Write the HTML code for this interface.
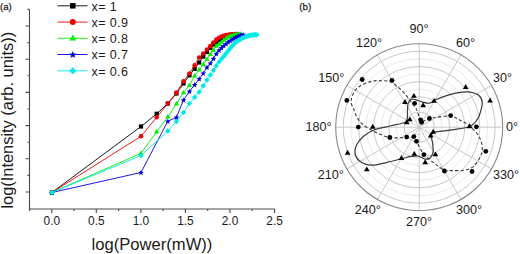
<!DOCTYPE html>
<html><head><meta charset="utf-8"><style>
html,body{margin:0;padding:0;background:#fff;}
svg{display:block;}
text{font-family:"Liberation Sans",sans-serif;fill:#1a1a1a;}
</style></head><body>
<svg width="520" height="254" viewBox="0 0 520 254">
<rect width="520" height="254" fill="#fff"/>
<text x="0" y="9.7" font-size="9.6" stroke="#1a1a1a" stroke-width="0.25">(a)</text>
<path d="M29.5,9.4V209M29,209H274.8" stroke="#4a4a4a" stroke-width="1.1" fill="none"/>
<path d="M25.5,192.0H29.5M27.5,175.4H29.5M25.5,158.8H29.5M27.5,142.2H29.5M25.5,125.6H29.5M27.5,109.0H29.5M25.5,92.4H29.5M27.5,75.8H29.5M25.5,59.2H29.5M27.5,42.6H29.5M25.5,26.0H29.5M27.5,9.4H29.5M51.8,209V213M96.3,209V213M140.9,209V213M185.4,209V213M230.0,209V213M274.6,209V213M29.5,209V211M74.0,209V211M118.6,209V211M163.1,209V211M207.7,209V211M252.2,209V211" stroke="#4a4a4a" stroke-width="1.1" fill="none"/>
<text x="51.8" y="225.2" font-size="11.9" text-anchor="middle" fill="#222">0.0</text>
<text x="96.3" y="225.2" font-size="11.9" text-anchor="middle" fill="#222">0.5</text>
<text x="140.9" y="225.2" font-size="11.9" text-anchor="middle" fill="#222">1.0</text>
<text x="185.4" y="225.2" font-size="11.9" text-anchor="middle" fill="#222">1.5</text>
<text x="230.0" y="225.2" font-size="11.9" text-anchor="middle" fill="#222">2.0</text>
<text x="274.6" y="225.2" font-size="11.9" text-anchor="middle" fill="#222">2.5</text>
<text x="91.6" y="249.5" font-size="16.6" fill="#1a1a1a">log(Power(mW))</text>
<text transform="translate(13,208.6) rotate(-90)" font-size="16.4" fill="#1a1a1a">log(Intensity (arb. units))</text>
<path d="M51.90,192.50L141.00,126.50L156.69,113.79L167.82,103.50L176.46,93.51L183.51,83.48L189.48,75.29L194.64,68.79L199.20,62.47L203.28,56.50L206.97,51.96L210.33,47.99L213.43,44.57L216.30,41.84L218.97,39.86L221.47,38.22L223.81,36.98L226.02,36.19L228.12,35.59L230.10,35.08L231.99,34.66L233.79,34.36L235.51,34.17L237.16,34.10" stroke="#000000" stroke-width="0.9" fill="none"/>
<rect x="49.79" y="190.39" width="4.22" height="4.22" fill="#000000"/>
<rect x="138.89" y="124.39" width="4.22" height="4.22" fill="#000000"/>
<rect x="154.58" y="111.68" width="4.22" height="4.22" fill="#000000"/>
<rect x="165.71" y="101.39" width="4.22" height="4.22" fill="#000000"/>
<rect x="174.34" y="91.39" width="4.22" height="4.22" fill="#000000"/>
<rect x="181.40" y="81.37" width="4.22" height="4.22" fill="#000000"/>
<rect x="187.36" y="73.18" width="4.22" height="4.22" fill="#000000"/>
<rect x="192.53" y="66.68" width="4.22" height="4.22" fill="#000000"/>
<rect x="197.09" y="60.36" width="4.22" height="4.22" fill="#000000"/>
<rect x="201.17" y="54.39" width="4.22" height="4.22" fill="#000000"/>
<rect x="204.85" y="49.85" width="4.22" height="4.22" fill="#000000"/>
<rect x="208.22" y="45.87" width="4.22" height="4.22" fill="#000000"/>
<rect x="211.32" y="42.46" width="4.22" height="4.22" fill="#000000"/>
<rect x="214.19" y="39.73" width="4.22" height="4.22" fill="#000000"/>
<rect x="216.86" y="37.75" width="4.22" height="4.22" fill="#000000"/>
<rect x="219.35" y="36.11" width="4.22" height="4.22" fill="#000000"/>
<rect x="221.70" y="34.87" width="4.22" height="4.22" fill="#000000"/>
<rect x="223.91" y="34.08" width="4.22" height="4.22" fill="#000000"/>
<rect x="226.00" y="33.48" width="4.22" height="4.22" fill="#000000"/>
<rect x="227.99" y="32.97" width="4.22" height="4.22" fill="#000000"/>
<rect x="229.88" y="32.55" width="4.22" height="4.22" fill="#000000"/>
<rect x="231.68" y="32.24" width="4.22" height="4.22" fill="#000000"/>
<rect x="233.40" y="32.06" width="4.22" height="4.22" fill="#000000"/>
<rect x="235.04" y="31.99" width="4.22" height="4.22" fill="#000000"/>
<path d="M51.90,192.50L141.00,136.30L156.69,117.29L167.82,103.50L176.46,92.61L183.51,81.18L189.48,73.49L194.64,65.19L199.20,57.48L203.28,53.50L206.97,49.47L210.33,45.99L213.43,42.44L216.30,39.63L218.97,37.67L221.47,36.48L223.81,35.67L226.02,35.08L228.12,34.72L230.10,34.51L231.99,34.34L233.79,34.21L235.51,34.13L237.16,34.10" stroke="#ee0000" stroke-width="0.9" fill="none"/>
<circle cx="51.90" cy="192.50" r="2.29" fill="#ee0000"/>
<circle cx="141.00" cy="136.30" r="2.29" fill="#ee0000"/>
<circle cx="156.69" cy="117.29" r="2.29" fill="#ee0000"/>
<circle cx="167.82" cy="103.50" r="2.29" fill="#ee0000"/>
<circle cx="176.46" cy="92.61" r="2.29" fill="#ee0000"/>
<circle cx="183.51" cy="81.18" r="2.29" fill="#ee0000"/>
<circle cx="189.48" cy="73.49" r="2.29" fill="#ee0000"/>
<circle cx="194.64" cy="65.19" r="2.29" fill="#ee0000"/>
<circle cx="199.20" cy="57.48" r="2.29" fill="#ee0000"/>
<circle cx="203.28" cy="53.50" r="2.29" fill="#ee0000"/>
<circle cx="206.97" cy="49.47" r="2.29" fill="#ee0000"/>
<circle cx="210.33" cy="45.99" r="2.29" fill="#ee0000"/>
<circle cx="213.43" cy="42.44" r="2.29" fill="#ee0000"/>
<circle cx="216.30" cy="39.63" r="2.29" fill="#ee0000"/>
<circle cx="218.97" cy="37.67" r="2.29" fill="#ee0000"/>
<circle cx="221.47" cy="36.48" r="2.29" fill="#ee0000"/>
<circle cx="223.81" cy="35.67" r="2.29" fill="#ee0000"/>
<circle cx="226.02" cy="35.08" r="2.29" fill="#ee0000"/>
<circle cx="228.12" cy="34.72" r="2.29" fill="#ee0000"/>
<circle cx="230.10" cy="34.51" r="2.29" fill="#ee0000"/>
<circle cx="231.99" cy="34.34" r="2.29" fill="#ee0000"/>
<circle cx="233.79" cy="34.21" r="2.29" fill="#ee0000"/>
<circle cx="235.51" cy="34.13" r="2.29" fill="#ee0000"/>
<circle cx="237.16" cy="34.10" r="2.29" fill="#ee0000"/>
<path d="M51.90,192.50L141.00,153.30L156.69,131.69L167.82,116.80L176.46,103.81L183.51,92.59L189.48,85.29L194.64,75.79L199.20,69.68L203.28,64.40L206.97,59.05L210.33,54.38L213.43,50.21L216.30,46.09L218.97,44.15L221.47,42.09L223.81,40.07L226.02,38.47L228.12,37.10L230.10,36.20L231.99,35.63L233.79,35.13L235.51,34.72L237.16,34.41L238.73,34.20L240.25,34.11" stroke="#00ee00" stroke-width="0.9" fill="none"/>
<path d="M51.90,189.60L54.51,194.24L49.29,194.24Z" fill="#00ee00"/>
<path d="M141.00,150.40L143.61,155.04L138.39,155.04Z" fill="#00ee00"/>
<path d="M156.69,128.78L159.30,133.43L154.08,133.43Z" fill="#00ee00"/>
<path d="M167.82,113.89L170.44,118.54L165.21,118.54Z" fill="#00ee00"/>
<path d="M176.46,100.90L179.07,105.55L173.84,105.55Z" fill="#00ee00"/>
<path d="M183.51,89.68L186.13,94.33L180.90,94.33Z" fill="#00ee00"/>
<path d="M189.48,82.39L192.09,87.03L186.86,87.03Z" fill="#00ee00"/>
<path d="M194.64,72.89L197.26,77.53L192.03,77.53Z" fill="#00ee00"/>
<path d="M199.20,66.77L201.81,71.42L196.59,71.42Z" fill="#00ee00"/>
<path d="M203.28,61.50L205.89,66.15L200.66,66.15Z" fill="#00ee00"/>
<path d="M206.97,56.15L209.58,60.80L204.35,60.80Z" fill="#00ee00"/>
<path d="M210.33,51.48L212.95,56.12L207.72,56.12Z" fill="#00ee00"/>
<path d="M213.43,47.31L216.04,51.95L210.82,51.95Z" fill="#00ee00"/>
<path d="M216.30,43.19L218.91,47.83L213.68,47.83Z" fill="#00ee00"/>
<path d="M218.97,41.24L221.58,45.89L216.35,45.89Z" fill="#00ee00"/>
<path d="M221.47,39.19L224.08,43.83L218.85,43.83Z" fill="#00ee00"/>
<path d="M223.81,37.17L226.42,41.81L221.20,41.81Z" fill="#00ee00"/>
<path d="M226.02,35.57L228.64,40.21L223.41,40.21Z" fill="#00ee00"/>
<path d="M228.12,34.20L230.73,38.84L225.50,38.84Z" fill="#00ee00"/>
<path d="M230.10,33.30L232.71,37.94L227.49,37.94Z" fill="#00ee00"/>
<path d="M231.99,32.72L234.60,37.37L229.37,37.37Z" fill="#00ee00"/>
<path d="M233.79,32.22L236.40,36.87L231.17,36.87Z" fill="#00ee00"/>
<path d="M235.51,31.82L238.12,36.46L232.89,36.46Z" fill="#00ee00"/>
<path d="M237.16,31.50L239.77,36.15L234.54,36.15Z" fill="#00ee00"/>
<path d="M238.73,31.30L241.35,35.95L236.12,35.95Z" fill="#00ee00"/>
<path d="M240.25,31.20L242.87,35.85L237.64,35.85Z" fill="#00ee00"/>
<path d="M51.90,192.50L141.00,172.50L167.82,121.20L176.46,117.30L183.51,99.98L189.48,91.39L194.64,84.69L199.20,78.77L203.28,73.20L206.97,67.26L210.33,63.18L213.43,58.51L216.30,53.79L218.97,50.29L221.47,47.78L223.81,45.71L226.02,43.80L228.12,42.08L230.10,40.67L231.99,39.48L233.79,38.43L235.51,37.42L237.16,36.53L238.73,35.86L240.25,35.30L241.71,34.84L243.12,34.50" stroke="#0000dd" stroke-width="0.9" fill="none"/>
<path d="M51.90,189.81L52.68,191.73L54.75,191.88L53.16,193.21L53.66,195.22L51.90,194.12L50.14,195.22L50.64,193.21L49.05,191.88L51.12,191.73Z" fill="#0000dd"/>
<path d="M141.00,169.81L141.78,171.73L143.85,171.88L142.26,173.21L142.76,175.22L141.00,174.12L139.24,175.22L139.74,173.21L138.15,171.88L140.22,171.73Z" fill="#0000dd"/>
<path d="M167.82,118.51L168.60,120.43L170.67,120.57L169.08,121.91L169.58,123.92L167.82,122.82L166.06,123.92L166.57,121.91L164.98,120.57L167.05,120.43Z" fill="#0000dd"/>
<path d="M176.46,114.61L177.23,116.54L179.30,116.68L177.71,118.01L178.22,120.02L176.46,118.92L174.70,120.02L175.20,118.01L173.61,116.68L175.68,116.54Z" fill="#0000dd"/>
<path d="M183.51,97.29L184.29,99.21L186.36,99.36L184.77,100.69L185.27,102.70L183.51,101.60L181.75,102.70L182.26,100.69L180.67,99.36L182.74,99.21Z" fill="#0000dd"/>
<path d="M189.48,88.70L190.25,90.62L192.32,90.77L190.73,92.10L191.24,94.11L189.48,93.01L187.72,94.11L188.22,92.10L186.63,90.77L188.70,90.62Z" fill="#0000dd"/>
<path d="M194.64,82.00L195.42,83.93L197.49,84.07L195.90,85.40L196.40,87.41L194.64,86.31L192.88,87.41L193.39,85.40L191.80,84.07L193.87,83.93Z" fill="#0000dd"/>
<path d="M199.20,76.08L199.98,78.01L202.05,78.15L200.46,79.48L200.96,81.50L199.20,80.39L197.44,81.50L197.95,79.48L196.36,78.15L198.43,78.01Z" fill="#0000dd"/>
<path d="M203.28,70.51L204.05,72.44L206.12,72.58L204.53,73.91L205.04,75.92L203.28,74.82L201.52,75.92L202.02,73.91L200.43,72.58L202.50,72.44Z" fill="#0000dd"/>
<path d="M206.97,64.56L207.74,66.49L209.81,66.63L208.22,67.96L208.72,69.98L206.97,68.88L205.21,69.98L205.71,67.96L204.12,66.63L206.19,66.49Z" fill="#0000dd"/>
<path d="M210.33,60.49L211.11,62.41L213.18,62.56L211.59,63.89L212.09,65.90L210.33,64.80L208.57,65.90L209.08,63.89L207.49,62.56L209.56,62.41Z" fill="#0000dd"/>
<path d="M213.43,55.82L214.21,57.74L216.28,57.89L214.69,59.22L215.19,61.23L213.43,60.13L211.67,61.23L212.18,59.22L210.59,57.89L212.65,57.74Z" fill="#0000dd"/>
<path d="M216.30,51.10L217.07,53.02L219.14,53.16L217.55,54.50L218.06,56.51L216.30,55.41L214.54,56.51L215.04,54.50L213.45,53.16L215.52,53.02Z" fill="#0000dd"/>
<path d="M218.97,47.60L219.74,49.53L221.81,49.67L220.22,51.00L220.73,53.01L218.97,51.91L217.21,53.01L217.71,51.00L216.12,49.67L218.19,49.53Z" fill="#0000dd"/>
<path d="M221.47,45.09L222.24,47.01L224.31,47.16L222.72,48.49L223.22,50.50L221.47,49.40L219.71,50.50L220.21,48.49L218.62,47.16L220.69,47.01Z" fill="#0000dd"/>
<path d="M223.81,43.02L224.59,44.95L226.66,45.09L225.07,46.42L225.57,48.43L223.81,47.33L222.05,48.43L222.56,46.42L220.97,45.09L223.04,44.95Z" fill="#0000dd"/>
<path d="M226.02,41.11L226.80,43.03L228.87,43.18L227.28,44.51L227.78,46.52L226.02,45.42L224.26,46.52L224.77,44.51L223.18,43.18L225.25,43.03Z" fill="#0000dd"/>
<path d="M228.12,39.39L228.89,41.31L230.96,41.46L229.37,42.79L229.87,44.80L228.12,43.70L226.36,44.80L226.86,42.79L225.27,41.46L227.34,41.31Z" fill="#0000dd"/>
<path d="M230.10,37.98L230.88,39.90L232.95,40.04L231.36,41.38L231.86,43.39L230.10,42.29L228.34,43.39L228.84,41.38L227.25,40.04L229.32,39.90Z" fill="#0000dd"/>
<path d="M231.99,36.79L232.76,38.72L234.83,38.86L233.24,40.19L233.75,42.20L231.99,41.10L230.23,42.20L230.73,40.19L229.14,38.86L231.21,38.72Z" fill="#0000dd"/>
<path d="M233.79,35.74L234.56,37.66L236.63,37.80L235.04,39.14L235.55,41.15L233.79,40.05L232.03,41.15L232.53,39.14L230.94,37.80L233.01,37.66Z" fill="#0000dd"/>
<path d="M235.51,34.73L236.28,36.65L238.35,36.80L236.76,38.13L237.27,40.14L235.51,39.04L233.75,40.14L234.25,38.13L232.66,36.80L234.73,36.65Z" fill="#0000dd"/>
<path d="M237.16,33.84L237.93,35.77L240.00,35.91L238.41,37.24L238.91,39.25L237.16,38.15L235.40,39.25L235.90,37.24L234.31,35.91L236.38,35.77Z" fill="#0000dd"/>
<path d="M238.73,33.16L239.51,35.09L241.58,35.23L239.99,36.56L240.49,38.58L238.73,37.48L236.98,38.58L237.48,36.56L235.89,35.23L237.96,35.09Z" fill="#0000dd"/>
<path d="M240.25,32.61L241.03,34.53L243.10,34.67L241.51,36.01L242.01,38.02L240.25,36.92L238.49,38.02L239.00,36.01L237.41,34.67L239.48,34.53Z" fill="#0000dd"/>
<path d="M241.71,32.15L242.49,34.07L244.56,34.22L242.97,35.55L243.47,37.56L241.71,36.46L239.95,37.56L240.46,35.55L238.87,34.22L240.94,34.07Z" fill="#0000dd"/>
<path d="M243.12,31.81L243.90,33.73L245.97,33.87L244.38,35.21L244.88,37.22L243.12,36.12L241.36,37.22L241.86,35.21L240.27,33.87L242.34,33.73Z" fill="#0000dd"/>
<path d="M51.90,192.50L141.00,155.50L167.82,131.10L176.46,121.51L183.51,112.59L189.48,103.49L194.64,97.29L199.20,91.97L203.28,85.80L206.97,79.95L210.33,74.98L213.43,70.18L216.30,65.73L218.97,61.99L221.47,58.95L223.81,56.20L226.02,53.48L228.12,50.88L230.10,48.50L231.99,46.25L233.79,44.16L235.51,42.46L237.16,41.21L238.73,40.16L240.25,39.26L241.71,38.49L243.12,37.83L244.48,37.25L245.79,36.73L247.06,36.25L248.29,35.84L249.48,35.51L250.63,35.29L251.75,35.13L252.84,34.99L253.91,34.86L254.94,34.77L255.94,34.72L256.92,34.70" stroke="#00e8e8" stroke-width="0.9" fill="none"/>
<path d="M51.90,189.77L54.63,192.50L51.90,195.23L49.17,192.50Z" fill="#00e8e8"/>
<path d="M141.00,152.77L143.73,155.50L141.00,158.23L138.27,155.50Z" fill="#00e8e8"/>
<path d="M167.82,128.37L170.55,131.10L167.82,133.83L165.09,131.10Z" fill="#00e8e8"/>
<path d="M176.46,118.78L179.18,121.51L176.46,124.23L173.73,121.51Z" fill="#00e8e8"/>
<path d="M183.51,109.86L186.24,112.59L183.51,115.31L180.78,112.59Z" fill="#00e8e8"/>
<path d="M189.48,100.76L192.20,103.49L189.48,106.22L186.75,103.49Z" fill="#00e8e8"/>
<path d="M194.64,94.57L197.37,97.29L194.64,100.02L191.92,97.29Z" fill="#00e8e8"/>
<path d="M199.20,89.25L201.93,91.97L199.20,94.70L196.47,91.97Z" fill="#00e8e8"/>
<path d="M203.28,83.08L206.01,85.80L203.28,88.53L200.55,85.80Z" fill="#00e8e8"/>
<path d="M206.97,77.22L209.69,79.95L206.97,82.68L204.24,79.95Z" fill="#00e8e8"/>
<path d="M210.33,72.25L213.06,74.98L210.33,77.71L207.61,74.98Z" fill="#00e8e8"/>
<path d="M213.43,67.45L216.16,70.18L213.43,72.90L210.70,70.18Z" fill="#00e8e8"/>
<path d="M216.30,63.00L219.03,65.73L216.30,68.46L213.57,65.73Z" fill="#00e8e8"/>
<path d="M218.97,59.26L221.70,61.99L218.97,64.72L216.24,61.99Z" fill="#00e8e8"/>
<path d="M221.47,56.22L224.19,58.95L221.47,61.68L218.74,58.95Z" fill="#00e8e8"/>
<path d="M223.81,53.47L226.54,56.20L223.81,58.93L221.08,56.20Z" fill="#00e8e8"/>
<path d="M226.02,50.75L228.75,53.48L226.02,56.21L223.30,53.48Z" fill="#00e8e8"/>
<path d="M228.12,48.15L230.84,50.88L228.12,53.60L225.39,50.88Z" fill="#00e8e8"/>
<path d="M230.10,45.77L232.83,48.50L230.10,51.23L227.37,48.50Z" fill="#00e8e8"/>
<path d="M231.99,43.52L234.72,46.25L231.99,48.98L229.26,46.25Z" fill="#00e8e8"/>
<path d="M233.79,41.43L236.52,44.16L233.79,46.89L231.06,44.16Z" fill="#00e8e8"/>
<path d="M235.51,39.73L238.24,42.46L235.51,45.18L232.78,42.46Z" fill="#00e8e8"/>
<path d="M237.16,38.48L239.88,41.21L237.16,43.94L234.43,41.21Z" fill="#00e8e8"/>
<path d="M238.73,37.43L241.46,40.16L238.73,42.89L236.01,40.16Z" fill="#00e8e8"/>
<path d="M240.25,36.53L242.98,39.26L240.25,41.99L237.52,39.26Z" fill="#00e8e8"/>
<path d="M241.71,35.76L244.44,38.49L241.71,41.22L238.98,38.49Z" fill="#00e8e8"/>
<path d="M243.12,35.10L245.85,37.83L243.12,40.55L240.39,37.83Z" fill="#00e8e8"/>
<path d="M244.48,34.52L247.21,37.25L244.48,39.98L241.75,37.25Z" fill="#00e8e8"/>
<path d="M245.79,34.00L248.52,36.73L245.79,39.45L243.06,36.73Z" fill="#00e8e8"/>
<path d="M247.06,33.52L249.79,36.25L247.06,38.97L244.33,36.25Z" fill="#00e8e8"/>
<path d="M248.29,33.11L251.02,35.84L248.29,38.56L245.56,35.84Z" fill="#00e8e8"/>
<path d="M249.48,32.79L252.21,35.51L249.48,38.24L246.75,35.51Z" fill="#00e8e8"/>
<path d="M250.63,32.57L253.36,35.29L250.63,38.02L247.90,35.29Z" fill="#00e8e8"/>
<path d="M251.75,32.40L254.48,35.13L251.75,37.86L249.03,35.13Z" fill="#00e8e8"/>
<path d="M252.84,32.26L255.57,34.99L252.84,37.71L250.12,34.99Z" fill="#00e8e8"/>
<path d="M253.91,32.14L256.63,34.86L253.91,37.59L251.18,34.86Z" fill="#00e8e8"/>
<path d="M254.94,32.05L257.66,34.77L254.94,37.50L252.21,34.77Z" fill="#00e8e8"/>
<path d="M255.94,31.99L258.67,34.72L255.94,37.44L253.21,34.72Z" fill="#00e8e8"/>
<path d="M256.92,31.97L259.65,34.70L256.92,37.43L254.19,34.70Z" fill="#00e8e8"/>
<path d="M57.5,5.8H87.5" stroke="#000000" stroke-width="0.9"/>
<rect x="70.04" y="3.04" width="5.52" height="5.52" fill="#000000"/>
<text x="91.5" y="10.7" font-size="12.5" letter-spacing="0.4" fill="#1a1a1a">x= 1</text>
<path d="M57.5,22.1H87.5" stroke="#ee0000" stroke-width="0.9"/>
<circle cx="72.80" cy="22.05" r="2.99" fill="#ee0000"/>
<text x="91.5" y="27.0" font-size="12.5" letter-spacing="0.4" fill="#1a1a1a">x= 0.9</text>
<path d="M57.5,38.3H87.5" stroke="#00ee00" stroke-width="0.9"/>
<path d="M72.80,34.50L76.22,40.58L69.38,40.58Z" fill="#00ee00"/>
<text x="91.5" y="43.2" font-size="12.5" letter-spacing="0.4" fill="#1a1a1a">x= 0.8</text>
<path d="M57.5,54.5H87.5" stroke="#0000dd" stroke-width="0.9"/>
<path d="M72.80,50.94L73.81,53.45L76.52,53.64L74.44,55.38L75.10,58.01L72.80,56.57L70.50,58.01L71.16,55.38L69.08,53.64L71.79,53.45Z" fill="#0000dd"/>
<text x="91.5" y="59.4" font-size="12.5" letter-spacing="0.4" fill="#1a1a1a">x= 0.7</text>
<path d="M57.5,70.8H87.5" stroke="#00e8e8" stroke-width="0.9"/>
<path d="M72.80,67.23L76.36,70.80L72.80,74.36L69.23,70.80Z" fill="#00e8e8"/>
<text x="91.5" y="75.7" font-size="12.5" letter-spacing="0.4" fill="#1a1a1a">x= 0.6</text>
<text x="299.2" y="9.7" font-size="9.8" stroke="#1a1a1a" stroke-width="0.25">(b)</text>
<circle cx="419.2" cy="127.2" r="7.59" fill="none" stroke="#ebebeb" stroke-width="1"/>
<circle cx="419.2" cy="127.2" r="15.18" fill="none" stroke="#c8c8c8" stroke-width="1"/>
<circle cx="419.2" cy="127.2" r="22.77" fill="none" stroke="#ebebeb" stroke-width="1"/>
<circle cx="419.2" cy="127.2" r="30.36" fill="none" stroke="#c8c8c8" stroke-width="1"/>
<circle cx="419.2" cy="127.2" r="37.95" fill="none" stroke="#ebebeb" stroke-width="1"/>
<circle cx="419.2" cy="127.2" r="45.55" fill="none" stroke="#c8c8c8" stroke-width="1"/>
<circle cx="419.2" cy="127.2" r="53.14" fill="none" stroke="#ebebeb" stroke-width="1"/>
<circle cx="419.2" cy="127.2" r="60.73" fill="none" stroke="#c8c8c8" stroke-width="1"/>
<circle cx="419.2" cy="127.2" r="68.32" fill="none" stroke="#ebebeb" stroke-width="1"/>
<circle cx="419.2" cy="127.2" r="75.91" fill="none" stroke="#c8c8c8" stroke-width="1"/>
<path d="M502.70,127.20L335.70,127.20M491.51,85.45L346.89,168.95M460.95,54.89L377.45,199.51M419.20,43.70L419.20,210.70M377.45,54.89L460.95,199.51M346.89,85.45L491.51,168.95" stroke="#c8c8c8" stroke-width="1" fill="none"/>
<circle cx="419.2" cy="127.2" r="83.5" fill="none" stroke="#8a8a8a" stroke-width="1.1"/>
<text x="409.5" y="33.4" font-size="12.6" fill="#1a1a1a">90°</text>
<text x="455.9" y="47.0" font-size="12.6" fill="#1a1a1a">60°</text>
<text x="493" y="82.0" font-size="12.6" fill="#1a1a1a">30°</text>
<text x="506" y="130.6" font-size="12.6" fill="#1a1a1a">0°</text>
<text x="493" y="178.5" font-size="12.6" fill="#1a1a1a">330°</text>
<text x="456" y="214.1" font-size="12.6" fill="#1a1a1a">300°</text>
<text x="405.9" y="225.8" font-size="12.6" fill="#1a1a1a">270°</text>
<text x="354.8" y="214.1" font-size="12.6" fill="#1a1a1a">240°</text>
<text x="317.7" y="178.7" font-size="12.6" fill="#1a1a1a">210°</text>
<text x="305.6" y="130.8" font-size="12.6" fill="#1a1a1a">180°</text>
<text x="318.3" y="82.3" font-size="12.6" fill="#1a1a1a">150°</text>
<text x="355.9" y="47.3" font-size="12.6" fill="#1a1a1a">120°</text>
<path d="M421.00,121.00C419.03,119.88 418.50,114.20 417.60,112.00C416.70,109.80 416.72,109.55 415.60,107.80C414.48,106.05 412.73,103.87 410.90,101.50C409.07,99.13 406.70,95.97 404.60,93.60C402.50,91.23 400.67,89.27 398.30,87.30C395.93,85.33 393.28,82.90 390.40,81.80C387.52,80.70 384.15,80.78 381.00,80.70C377.85,80.62 374.92,80.47 371.50,81.30C368.08,82.13 363.38,83.92 360.50,85.70C357.62,87.48 355.78,89.37 354.20,92.00C352.62,94.63 351.05,98.60 351.00,101.50C350.95,104.40 352.90,106.77 353.90,109.40C354.90,112.03 355.55,114.80 357.00,117.30C358.45,119.80 360.23,122.30 362.60,124.40C364.97,126.50 368.18,128.20 371.20,129.90C374.22,131.60 377.60,133.33 380.70,134.60C383.80,135.87 386.58,136.97 389.80,137.50C393.02,138.03 396.63,137.85 400.00,137.80C403.37,137.75 407.58,137.08 410.00,137.20C412.42,137.32 413.25,137.45 414.50,138.50C415.75,139.55 415.93,140.85 417.50,143.50C419.07,146.15 421.12,151.13 423.90,154.40C426.68,157.67 430.78,160.47 434.20,163.10C437.62,165.73 441.52,168.95 444.40,170.20C447.28,171.45 448.22,170.60 451.50,170.60C454.78,170.60 460.43,170.92 464.10,170.20C467.77,169.48 470.75,168.67 473.50,166.30C476.25,163.93 479.15,159.28 480.60,156.00C482.05,152.72 482.55,150.02 482.20,146.60C481.85,143.18 480.70,139.02 478.50,135.50C476.30,131.98 472.00,128.00 469.00,125.50C466.00,123.00 463.55,122.08 460.50,120.50C457.45,118.92 454.73,116.52 450.70,116.00C446.67,115.48 439.85,116.95 436.30,117.40C432.75,117.85 431.95,118.10 429.40,118.70C426.85,119.30 422.97,122.12 421.00,121.00Z" fill="none" stroke="#3a3a3a" stroke-width="1.1" stroke-dasharray="3.2,2.2"/>
<path d="M435.70,99.70C439.35,98.20 446.25,95.52 451.50,94.20C456.75,92.88 462.73,91.67 467.20,91.80C471.67,91.93 475.80,93.30 478.30,95.00C480.80,96.70 481.82,99.25 482.20,102.00C482.58,104.75 481.33,108.73 480.60,111.50C479.87,114.27 479.48,116.15 477.80,118.60C476.12,121.05 474.80,124.33 470.50,126.20C466.20,128.07 457.45,128.90 452.00,129.80C446.55,130.70 440.97,131.13 437.80,131.60C434.63,132.07 434.10,131.78 433.00,132.60C431.90,133.42 431.27,134.77 431.20,136.50C431.13,138.23 432.30,140.33 432.60,143.00C432.90,145.67 433.43,150.00 433.00,152.50C432.57,155.00 431.30,156.90 430.00,158.00C428.70,159.10 427.20,159.43 425.20,159.10C423.20,158.77 420.53,156.42 418.00,156.00C415.47,155.58 412.50,156.22 410.00,156.60C407.50,156.98 406.80,157.35 403.00,158.30C399.20,159.25 392.45,161.15 387.20,162.30C381.95,163.45 376.12,165.43 371.50,165.20C366.88,164.97 362.25,162.83 359.50,160.90C356.75,158.97 355.50,156.25 355.00,153.60C354.50,150.95 355.07,147.88 356.50,145.00C357.93,142.12 360.70,138.80 363.60,136.30C366.50,133.80 369.50,131.72 373.90,130.00C378.30,128.28 385.15,127.17 390.00,126.00C394.85,124.83 400.17,123.92 403.00,123.00C405.83,122.08 406.25,122.67 407.00,120.50C407.75,118.33 407.30,112.85 407.50,110.00C407.70,107.15 407.63,105.17 408.20,103.40C408.77,101.63 409.70,100.03 410.90,99.40C412.10,98.77 413.47,99.15 415.40,99.60C417.33,100.05 420.13,101.50 422.50,102.10C424.87,102.70 427.40,103.60 429.60,103.20C431.80,102.80 432.05,101.20 435.70,99.70Z" fill="none" stroke="#3a3a3a" stroke-width="1.2"/>
<path d="M413.90,92.90L416.75,97.85L411.05,97.85Z" fill="#000"/>
<path d="M405.00,99.10L407.85,104.05L402.15,104.05Z" fill="#000"/>
<path d="M423.10,102.30L425.95,107.25L420.25,107.25Z" fill="#000"/>
<path d="M434.10,97.90L436.95,102.85L431.25,102.85Z" fill="#000"/>
<path d="M465.70,84.10L468.55,89.05L462.85,89.05Z" fill="#000"/>
<path d="M490.10,97.50L492.95,102.45L487.25,102.45Z" fill="#000"/>
<path d="M469.60,123.30L472.45,128.25L466.75,128.25Z" fill="#000"/>
<path d="M433.20,128.80L436.05,133.75L430.35,133.75Z" fill="#000"/>
<path d="M430.70,132.50L433.55,137.45L427.85,137.45Z" fill="#000"/>
<path d="M409.80,116.40L412.65,121.35L406.95,121.35Z" fill="#000"/>
<path d="M406.80,119.30L409.65,124.25L403.95,124.25Z" fill="#000"/>
<path d="M372.80,123.80L375.65,128.75L369.95,128.75Z" fill="#000"/>
<path d="M347.60,149.80L350.45,154.75L344.75,154.75Z" fill="#000"/>
<path d="M401.40,155.00L404.25,159.95L398.55,159.95Z" fill="#000"/>
<path d="M414.30,150.90L417.15,155.85L411.45,155.85Z" fill="#000"/>
<path d="M435.40,151.40L438.25,156.35L432.55,156.35Z" fill="#000"/>
<path d="M425.20,159.30L428.05,164.25L422.35,164.25Z" fill="#000"/>
<path d="M366.80,166.40L369.65,171.35L363.95,171.35Z" fill="#000"/>
<circle cx="362.2" cy="79.5" r="2.4" fill="#000"/>
<circle cx="392" cy="80.3" r="2.4" fill="#000"/>
<circle cx="346.8" cy="100.4" r="2.4" fill="#000"/>
<circle cx="358.3" cy="127.1" r="2.4" fill="#000"/>
<circle cx="414.6" cy="103.3" r="2.4" fill="#000"/>
<circle cx="420.6" cy="119.8" r="2.4" fill="#000"/>
<circle cx="421.6" cy="122.3" r="2.4" fill="#000"/>
<circle cx="429.4" cy="118.5" r="2.4" fill="#000"/>
<circle cx="450.7" cy="115.6" r="2.4" fill="#000"/>
<circle cx="476.4" cy="126.8" r="2.4" fill="#000"/>
<circle cx="485.8" cy="151.3" r="2.4" fill="#000"/>
<circle cx="472" cy="171.5" r="2.4" fill="#000"/>
<circle cx="444.4" cy="171" r="2.4" fill="#000"/>
<circle cx="423.9" cy="154.6" r="2.4" fill="#000"/>
<circle cx="416.5" cy="141.3" r="2.4" fill="#000"/>
<circle cx="413.9" cy="136.6" r="2.4" fill="#000"/>
<circle cx="406.7" cy="137.1" r="2.4" fill="#000"/>
<circle cx="389.8" cy="137.5" r="2.4" fill="#000"/>
</svg>
</body></html>
